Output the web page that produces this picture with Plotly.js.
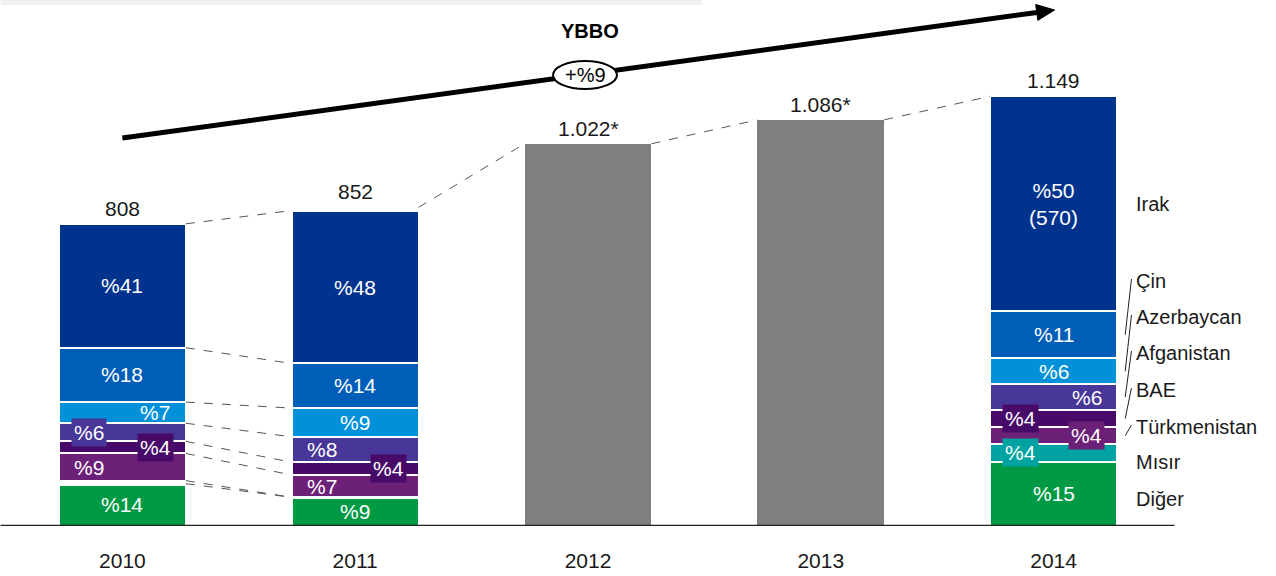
<!DOCTYPE html>
<html>
<head>
<meta charset="utf-8">
<script src="https://cdn.plot.ly/plotly-3.0.1.min.js"></script>
<style>html,body{margin:0;padding:0;background:#fff;}#chart{width:1276px;height:576px;}</style>
</head>
<body>
<div id="chart"></div>
<script>
// ---------- DATA ----------
const years = ['2010', '2011', '2012', '2013', '2014'];
const totals = [808, 852, 1022, 1086, 1149];
const totalLabels = ['808', '852', '1.022*', '1.086*', '1.149'];
const estimatedTotals = [null, null, 1022, 1086, null];   // grey bars (no breakdown)

// shares (%) by country, bottom to top
const countries = ['Diğer', 'Mısır', 'Türkmenistan', 'BAE', 'Afganistan', 'Azerbaycan', 'Çin', 'Irak'];
const pctDiger        = [14, 9, null, null, 15];
const pctMisir        = [1, 0, null, null, 4];
const pctTurkmenistan = [9, 7, null, null, 4];
const pctBAE          = [4, 4, null, null, 4];
const pctAfganistan   = [6, 8, null, null, 6];
const pctAzerbaycan   = [7, 9, null, null, 6];
const pctCin          = [18, 14, null, null, 11];
const pctIrak         = [41, 48, null, null, 50];
const irak2014Value = 570;

const growthLabel = '+%9';
const growthTitle = 'YBBO';

// ---------- STYLE ----------
const shares = [pctDiger, pctMisir, pctTurkmenistan, pctBAE, pctAfganistan, pctAzerbaycan, pctCin, pctIrak];
const colors = ['#009A44', '#00A3A1', '#6D2077', '#470A68', '#483698', '#0091DA', '#005EB8', '#00338D'];
const FONT = 'Liberation Sans, Arial, sans-serif';

// label placement per [country][year]: 0 centre, -1 left, +1 right; box = coloured background
const place = {
  'Azerbaycan':   {0: {o: 1}},
  'Afganistan':   {0: {o: -1, box: true}, 1: {o: -1}, 4: {o: 1}},
  'BAE':          {0: {o: 1, box: true}, 1: {o: 1, box: true}, 4: {o: -1, box: true}},
  'Türkmenistan': {0: {o: -1}, 1: {o: -1}, 4: {o: 1, box: true}},
  'Mısır':        {4: {o: -1, box: true}}
};

// pixel geometry
const BASE_PX = 526, SCALE = 0.374, LEFT_PX = 5.5, STEP_PX = 233;
const YMAX = BASE_PX / SCALE;
const BARGAP = 0.455, HW = (1 - BARGAP) / 2;
const px2x = px => (px - LEFT_PX) / (STEP_PX * 5);
const px2y = py => (BASE_PX - py) / BASE_PX;

// ---------- TRACES ----------
const traces = [];
const segVals = shares.map(arr => arr.map((p, i) => p == null ? null : p * totals[i] / 100));
segVals.forEach((vals, k) => {
  // very thin slices are hidden by the white separators
  const lw = vals.map(v => (v != null && v * SCALE < 5) ? 4 : 2);
  traces.push({
    type: 'bar', x: years, y: vals, name: countries[k],
    marker: {color: colors[k], line: {color: '#ffffff', width: lw}},
    hoverinfo: 'skip', showlegend: false
  });
});
traces.push({
  type: 'bar', x: years, y: estimatedTotals, name: 'Tahmin',
  marker: {color: '#7F7F7F', line: {color: '#ffffff', width: 0}},
  hoverinfo: 'skip', showlegend: false
});

// cumulative boundaries
const cum = years.map((yr, i) => {
  const out = [0];
  segVals.forEach(v => out.push(out[out.length - 1] + (v[i] || 0)));
  return out;
});

// ---------- ANNOTATIONS ----------
const ann = [];
// totals above bars
years.forEach((yr, i) => {
  ann.push({x: i, y: totals[i], xref: 'x', yref: 'y', text: totalLabels[i], showarrow: false,
    xanchor: 'center', yanchor: 'bottom', yshift: 2, font: {family: FONT, size: 21, color: '#1a1a1a'}});
});
// segment labels
segVals.forEach((vals, k) => {
  vals.forEach((v, i) => {
    if (v == null || shares[k][i] === 0 || (countries[k] === 'Mısır' && i === 0)) return;
    const mid = (cum[i][k] + cum[i][k + 1]) / 2;
    const p = (place[countries[k]] || {})[i] || {o: 0};
    let text = '%' + shares[k][i];
    if (countries[k] === 'Irak' && i === 4) text += '<br>(' + irak2014Value + ')';
    const a = {x: i, y: mid, xref: 'x', yref: 'y', text: text, showarrow: false,
      xanchor: 'center', yanchor: 'middle',
      xshift: p.o * 33, font: {family: FONT, size: 21, color: '#ffffff'}};
    if (p.box) { a.bgcolor = colors[k]; a.borderpad = 2; }
    ann.push(a);
  });
});
// right-side country labels (2014)
const labelPx = {'Irak': null, 'Çin': 281, 'Azerbaycan': 317, 'Afganistan': 353, 'BAE': 390,
                 'Türkmenistan': 427, 'Mısır': 462, 'Diğer': 499};
const shapes = [];
countries.forEach((c, k) => {
  const mid = (cum[4][k] + cum[4][k + 1]) / 2;
  const yl = labelPx[c] == null ? mid : (BASE_PX - labelPx[c]) / SCALE;
  ann.push({x: 4 + HW + 0.072, y: yl, xref: 'x', yref: 'y', text: c, showarrow: false,
    xanchor: 'left', yanchor: 'middle', font: {family: FONT, size: 20, color: '#1a1a1a'}});
  if (['Çin', 'Azerbaycan', 'Afganistan', 'BAE', 'Türkmenistan'].includes(c)) {
    shapes.push({type: 'line', xref: 'x', yref: 'y', x0: 4 + HW + 0.062, y0: yl + 2 / SCALE,
      x1: 4 + HW + 0.035, y1: mid, line: {color: '#222', width: 1}});
  }
});
ann.push({x: px2x(590), y: px2y(31), xref: 'paper', yref: 'paper', text: '<b>' + growthTitle + '</b>',
  showarrow: false, xanchor: 'center', yanchor: 'middle', font: {family: FONT, size: 20, color: '#000'}});
ann.push({x: px2x(585), y: px2y(75), xref: 'paper', yref: 'paper', text: growthLabel,
  showarrow: false, xanchor: 'center', yanchor: 'middle', font: {family: FONT, size: 20, color: '#000'}});

// ---------- SHAPES ----------
// grey strip at top
shapes.push({type: 'rect', xref: 'paper', yref: 'paper', x0: px2x(0), x1: px2x(702), y0: px2y(5), y1: px2y(-2),
  fillcolor: '#F0F0F0', line: {width: 0}, layer: 'below'});
// dashed connectors 2010 -> 2011 (all boundaries)
for (let k = 1; k < cum[0].length; k++) {
  shapes.push({type: 'line', xref: 'x', yref: 'y', x0: 0 + HW, y0: cum[0][k], x1: 1 - HW, y1: cum[1][k],
    line: {color: '#555', width: 1, dash: 'dash'}});
}
// dashed connectors between totals
for (let i = 1; i < years.length - 1; i++) {
  shapes.push({type: 'line', xref: 'x', yref: 'y', x0: i + HW, y0: totals[i], x1: i + 1 - HW, y1: totals[i + 1],
    line: {color: '#555', width: 1, dash: 'dash'}});
}
// baseline
shapes.push({type: 'line', xref: 'paper', yref: 'y', x0: px2x(0), x1: px2x(1175), y0: 0, y1: 0,
  line: {color: '#222', width: 2.5}});
// growth arrow
const T = [1055, 10], S = [122, 138];
const dx = T[0] - S[0], dy = T[1] - S[1], len = Math.hypot(dx, dy);
const u = [dx / len, dy / len], n = [-u[1], u[0]];
const L = 18, W = 8;
const B = [T[0] - L * u[0], T[1] - L * u[1]];
shapes.push({type: 'line', xref: 'paper', yref: 'paper', x0: px2x(S[0]), y0: px2y(S[1]),
  x1: px2x(B[0] + 2 * u[0]), y1: px2y(B[1] + 2 * u[1]), line: {color: '#000', width: 5}});
const c1 = [B[0] + W * n[0], B[1] + W * n[1]], c2 = [B[0] - W * n[0], B[1] - W * n[1]];
shapes.push({type: 'path', xref: 'paper', yref: 'paper',
  path: `M ${px2x(T[0])} ${px2y(T[1])} L ${px2x(c1[0])} ${px2y(c1[1])} L ${px2x(c2[0])} ${px2y(c2[1])} Z`,
  fillcolor: '#000', line: {color: '#000', width: 1}});
// ellipse
shapes.push({type: 'circle', xref: 'paper', yref: 'paper', x0: px2x(553), x1: px2x(617), y0: px2y(89), y1: px2y(61),
  fillcolor: '#ffffff', line: {color: '#000', width: 2}});

// ---------- LAYOUT ----------
const layout = {
  width: 1276, height: 576,
  margin: {l: LEFT_PX, r: 1276 - LEFT_PX - STEP_PX * 5, t: 0, b: 576 - BASE_PX},
  paper_bgcolor: '#ffffff', plot_bgcolor: '#ffffff',
  barmode: 'stack', bargap: BARGAP,
  xaxis: {type: 'category', range: [-0.5, 4.5], showgrid: false, zeroline: false, showline: false,
    ticks: '', ticklabelstandoff: 20, tickfont: {family: FONT, size: 21, color: '#1a1a1a'}, fixedrange: true},
  yaxis: {range: [0, YMAX], showgrid: false, zeroline: false, showline: false, showticklabels: false, fixedrange: true},
  annotations: ann, shapes: shapes, showlegend: false
};
Plotly.newPlot('chart', traces, layout, {displayModeBar: false, staticPlot: true});
</script>
</body>
</html>
